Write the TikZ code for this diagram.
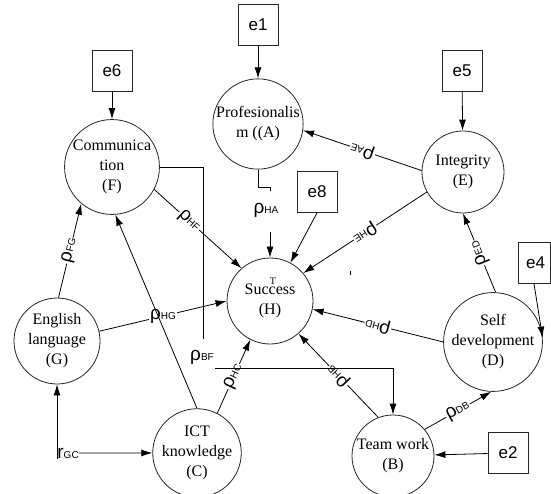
\documentclass[tikz,border=0pt]{standalone}
\usepackage{fontspec}
\setmainfont{Liberation Serif}
\setsansfont{Liberation Sans}
\usetikzlibrary{arrows.meta}

% path coefficient: big letter, small index
\newcommand{\cf}[2]{{\fontsize{19}{19}\selectfont #1}{\fontsize{10}{10}\selectfont #2}}

\begin{document}
\begin{tikzpicture}[x=1pt,y=-1pt,>={Latex[length=11pt,width=7pt]},line width=0.8pt,
    var/.style={circle,draw=black!85,minimum size=86pt,inner sep=0pt,align=center,
      font=\fontsize{16}{20}\selectfont},
    err/.style={rectangle,draw=black!85,minimum width=40pt,minimum height=41pt,
      font=\sffamily\fontsize{17}{17}\selectfont},
    lab/.style={fill=white,inner sep=1pt,font=\sffamily}]
    \useasboundingbox (0,0) rectangle (551,494);

    \node[var,minimum size=88pt] (A) at (258,124) {Profesionalis\\m ((A)};
    \node[var] (F) at (112,167) {Communica\\tion\\(F)};
    \node[var,minimum size=82pt] (E) at (463,172) {Integrity\\(E)};
    \node[var] (H) at (270,301) {Success\\(H)};
    \node[var] (G) at (57,341) {English\\language\\(G)};
    \node[var] (C) at (197,453) {ICT\\knowledge\\(C)};
    \node[var,minimum size=82pt] (B) at (393,456) {Team work\\(B)};
    \node[var,minimum size=88pt] (D) at (493,342) {Self\\development\\(D)};

    \node[err] (e1) at (258,25) {e1};
    \node[err] (e6) at (112,71) {e6};
    \node[err] (e5) at (462,71) {e5};
    \node[err] (e8) at (317,192) {e8};
    \node[err,minimum width=32pt,text width=22pt,align=right] (e4) at (534,263) {e4};
    \node[err] (e2) at (508,453) {e2};

    \foreach \e/\v in {e1/A,e6/F,e5/E,e2/B} \draw[->] (\e) -- (\v);
    \draw[->] (e8.south) -- (H);
    \draw[->] (e4.south) -- (D.5);

    % broken A -> H
    \coordinate (ha1) at (270,187);
    \coordinate (ha2) at (270,232);
    \node[font=\sffamily] (ha) at (266,210) {\cf{ρ}{HA}};
    \draw (A.south) |- (ha1) -- ++(0,4);
    \draw[->] (ha2) -- (H);

    \draw[->] (F.-28) -- node[lab,sloped,pos=0.4] {\cf{ρ}{HF}} (H.131);
    \draw[->] (G.13) -- node[lab] {\cf{ρ}{HG}} (H.west);
    \draw[->] (C.63) -- node[lab,sloped] {\cf{ρ}{HC}} (H.243);
    \draw[->] (B.111) -- node[lab,sloped,allow upside down] {\cf{ρ}{HB}} (H.-49);
    \draw[->] (D.west) -- node[lab,sloped,allow upside down] {\cf{ρ}{HD}} (H.-11);
    \draw[->] (E.209) -- node[lab,sloped,allow upside down] {\cf{ρ}{HE}} (H.40);
    \draw[->] (E.178) -- node[lab,sloped,allow upside down] {\cf{ρ}{AE}} (A.-8);
    \draw[->] (D.87) -- node[lab,sloped,allow upside down] {\cf{ρ}{ED}} (E.south);
    \draw[->] (B.40) -- node[lab,sloped] {\cf{ρ}{DB}} (D.-92);
    \draw[->] (G.88) -- node[lab,sloped] {\cf{ρ}{FG}} (F.230);
    \draw[->] (C.north) -- (F.-86);

    % broken F -> B
    \coordinate (bf1) at (203,167);
    \coordinate (bf2) at (203,339);
    \coordinate (bf3) at (215,368);
    \node[font=\sffamily] (bf) at (202,357) {\cf{ρ}{BF}};
    \draw (F.east) -- (bf1) -- (bf2);
    \draw[->] (bf3) -| (B);

    % correlation G <-> C
    \node[font=\sffamily,inner sep=0pt,anchor=base west] (rgc) at (57,458) {\cf{r}{GC}};
    \draw[->] (rgc.south west) -- (G);
    \draw[->] (rgc.east) -- (C);

    \node[font=\fontsize{10}{10}\selectfont,inner sep=0pt] (t) at (273,281) {T};
    \draw[line width=0.6pt] (350,271) -- (350,275);
  \end{tikzpicture}
\end{document}
